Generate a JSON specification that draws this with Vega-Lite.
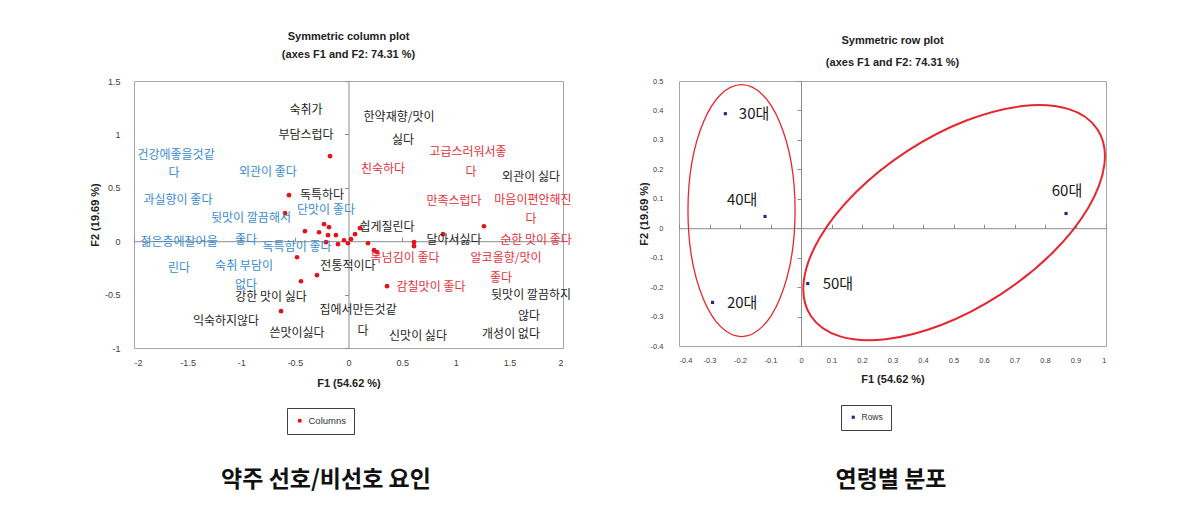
{
  "$schema": "https://vega.github.io/schema/vega-lite/v6.json",
  "padding": {"left": 88, "top": 30, "right": 0, "bottom": 0},
  "background": "white",
  "config": {
    "locale": {"number": {"decimal": ".", "thousands": ",", "grouping": [3], "currency": ["$", ""], "minus": "-"}},
    "view": {"stroke": "#a6a6a6"},
    "axis": {"labelFont": "Liberation Sans", "labelFontSize": 9, "labelColor": "#404040", "titleFont": "Liberation Sans", "titleFontSize": 11, "titleFontWeight": "bold", "titleColor": "#222222", "grid": false, "ticks": false, "domain": false, "format": "~g"},
    "title": {"font": "Liberation Sans", "fontSize": 11, "fontWeight": "bold", "color": "#222222", "anchor": "middle"},
    "legend": {"labelFont": "Liberation Sans", "labelFontSize": 9.5, "labelColor": "#333333", "strokeColor": "#404040", "fillColor": "white", "padding": 8}
  },
  "datasets": {
    "colPoints": [
      {"f1": -0.172, "f2": 0.796, "series": "Columns"},
      {"f1": -0.555, "f2": 0.431, "series": "Columns"},
      {"f1": -0.592, "f2": 0.262, "series": "Columns"},
      {"f1": -0.228, "f2": 0.159, "series": "Columns"},
      {"f1": -0.182, "f2": 0.131, "series": "Columns"},
      {"f1": -0.406, "f2": 0.094, "series": "Columns"},
      {"f1": -0.275, "f2": 0.084, "series": "Columns"},
      {"f1": -0.191, "f2": 0.056, "series": "Columns"},
      {"f1": -0.117, "f2": 0.056, "series": "Columns"},
      {"f1": -0.210, "f2": -0.009, "series": "Columns"},
      {"f1": -0.098, "f2": -0.028, "series": "Columns"},
      {"f1": -0.042, "f2": 0.009, "series": "Columns"},
      {"f1": 0.023, "f2": 0.019, "series": "Columns"},
      {"f1": 0.061, "f2": 0.066, "series": "Columns"},
      {"f1": 0.107, "f2": 0.122, "series": "Columns"},
      {"f1": 0.182, "f2": -0.019, "series": "Columns"},
      {"f1": 0.238, "f2": -0.084, "series": "Columns"},
      {"f1": 0.266, "f2": -0.103, "series": "Columns"},
      {"f1": -0.480, "f2": -0.150, "series": "Columns"},
      {"f1": -0.294, "f2": -0.318, "series": "Columns"},
      {"f1": -0.443, "f2": -0.375, "series": "Columns"},
      {"f1": -0.629, "f2": -0.655, "series": "Columns"},
      {"f1": 0.359, "f2": -0.421, "series": "Columns"},
      {"f1": 0.611, "f2": -0.009, "series": "Columns"},
      {"f1": 0.611, "f2": -0.047, "series": "Columns"},
      {"f1": 0.881, "f2": 0.066, "series": "Columns"},
      {"f1": 1.263, "f2": 0.140, "series": "Columns"},
      {"f1": -0.005, "f2": -0.019, "series": "Columns"}
    ],
    "colLabels": [
      {"f1": -0.396, "f2": 1.227, "label": "숙취가", "group": "비선호"},
      {"f1": -0.396, "f2": 0.993, "label": "부담스럽다", "group": "비선호"},
      {"f1": 0.471, "f2": 1.161, "label": "한약재향/맛이", "group": "비선호"},
      {"f1": 0.508, "f2": 0.946, "label": "싫다", "group": "비선호"},
      {"f1": 1.702, "f2": 0.599, "label": "외관이 싫다", "group": "비선호"},
      {"f1": -0.247, "f2": 0.431, "label": "독특하다", "group": "비선호"},
      {"f1": 0.359, "f2": 0.131, "label": "쉽게질린다", "group": "비선호"},
      {"f1": 0.984, "f2": 0.009, "label": "달아서싫다", "group": "비선호"},
      {"f1": -0.005, "f2": -0.234, "label": "전통적이다", "group": "비선호"},
      {"f1": -0.723, "f2": -0.524, "label": "강한 맛이 싫다", "group": "비선호"},
      {"f1": 0.089, "f2": -0.646, "label": "집에서만든것같", "group": "비선호"},
      {"f1": 0.135, "f2": -0.843, "label": "다", "group": "비선호"},
      {"f1": -1.142, "f2": -0.749, "label": "익숙하지않다", "group": "비선호"},
      {"f1": -0.480, "f2": -0.861, "label": "쓴맛이싫다", "group": "비선호"},
      {"f1": 0.648, "f2": -0.890, "label": "신맛이 싫다", "group": "비선호"},
      {"f1": 1.702, "f2": -0.506, "label": "뒷맛이 깔끔하지", "group": "비선호"},
      {"f1": 1.683, "f2": -0.702, "label": "않다", "group": "비선호"},
      {"f1": 1.515, "f2": -0.871, "label": "개성이 없다", "group": "비선호"},
      {"f1": 1.114, "f2": 0.833, "label": "고급스러워서좋", "group": "선호A"},
      {"f1": 1.142, "f2": 0.646, "label": "다", "group": "선호A"},
      {"f1": 0.322, "f2": 0.674, "label": "친숙하다", "group": "선호A"},
      {"f1": 0.984, "f2": 0.375, "label": "만족스럽다", "group": "선호A"},
      {"f1": 1.720, "f2": 0.384, "label": "마음이편안해진", "group": "선호A"},
      {"f1": 1.702, "f2": 0.206, "label": "다", "group": "선호A"},
      {"f1": 1.748, "f2": 0.009, "label": "순한 맛이 좋다", "group": "선호A"},
      {"f1": 0.527, "f2": -0.159, "label": "목넘김이 좋다", "group": "선호A"},
      {"f1": 1.469, "f2": -0.159, "label": "알코올향/맛이", "group": "선호A"},
      {"f1": 1.422, "f2": -0.346, "label": "좋다", "group": "선호A"},
      {"f1": 0.769, "f2": -0.431, "label": "감칠맛이 좋다", "group": "선호A"},
      {"f1": -1.608, "f2": 0.805, "label": "건강에좋을것같", "group": "선호B"},
      {"f1": -1.627, "f2": 0.637, "label": "다", "group": "선호B"},
      {"f1": -0.751, "f2": 0.646, "label": "외관이 좋다", "group": "선호B"},
      {"f1": -1.590, "f2": 0.384, "label": "과실향이 좋다", "group": "선호B"},
      {"f1": -0.909, "f2": 0.215, "label": "뒷맛이 깔끔해서", "group": "선호B"},
      {"f1": -0.956, "f2": 0.009, "label": "좋다", "group": "선호B"},
      {"f1": -0.210, "f2": 0.290, "label": "단맛이 좋다", "group": "선호B"},
      {"f1": -0.480, "f2": -0.056, "label": "독특함이 좋다", "group": "선호B"},
      {"f1": -1.580, "f2": -0.009, "label": "젊은층에잘어울", "group": "선호B"},
      {"f1": -1.580, "f2": -0.253, "label": "린다", "group": "선호B"},
      {"f1": -0.974, "f2": -0.234, "label": "숙취 부담이", "group": "선호B"},
      {"f1": -0.956, "f2": -0.412, "label": "없다", "group": "선호B"}
    ],
    "rowPoints": [
      {"f1": -0.248, "f2": 0.389, "age": "30대", "series": "Rows"},
      {"f1": -0.118, "f2": 0.040, "age": "40대", "series": "Rows"},
      {"f1": 0.022, "f2": -0.188, "age": "50대", "series": "Rows"},
      {"f1": -0.290, "f2": -0.252, "age": "20대", "series": "Rows"},
      {"f1": 0.869, "f2": 0.050, "age": "60대", "series": "Rows"}
    ],
    "rowLabels": [
      {"f1": -0.154, "f2": 0.388, "age": "30대"},
      {"f1": -0.193, "f2": 0.095, "age": "40대"},
      {"f1": 0.121, "f2": -0.191, "age": "50대"},
      {"f1": -0.193, "f2": -0.253, "age": "20대"},
      {"f1": 0.872, "f2": 0.126, "age": "60대"}
    ],
    "ellipseYoung": [{"f1": -0.195, "f2": 0.060, "cluster": "20-40대"}],
    "ellipseOld": [{"f1": 0.502, "f2": 0.019, "cluster": "50-60대"}]
  },
  "vconcat": [
    {
      "hconcat": [
        {
          "width": 429,
          "height": 267,
          "title": {"text": ["Symmetric column plot", "(axes F1 and F2: 74.31 %)"], "lineHeight": 18, "offset": 17},
          "resolve": {"axis": {"x": "independent", "y": "independent"}},
          "layer": [
            {
              "mark": {"type": "rule", "color": "#8c8c8c", "strokeWidth": 1},
              "encoding": {
                "x": {"datum": 0, "type": "quantitative", "scale": {"domain": [-2, 2], "nice": false, "zero": false},
                  "axis": {"orient": "top", "offset": -160.2, "domain": true, "domainColor": "#8c8c8c", "ticks": true, "tickColor": "#8c8c8c", "tickSize": 4, "labels": false, "title": null, "values": [-2, -1.5, -1, -0.5, 0, 0.5, 1, 1.5, 2]}}
              }
            },
            {
              "mark": {"type": "rule", "color": "#8c8c8c", "strokeWidth": 1},
              "encoding": {
                "y": {"datum": 0, "type": "quantitative", "scale": {"domain": [-1, 1.5], "nice": false, "zero": false},
                  "axis": {"orient": "left", "offset": -214.5, "domain": true, "domainColor": "#8c8c8c", "ticks": true, "tickColor": "#8c8c8c", "tickSize": 4, "labels": false, "title": null, "values": [-1, -0.5, 0, 0.5, 1, 1.5]}}
              }
            },
            {
              "data": {"name": "colPoints"},
              "mark": {"type": "point", "filled": true, "shape": "circle", "size": 22, "opacity": 1},
              "encoding": {
                "x": {"field": "f1", "type": "quantitative", "scale": {"domain": [-2, 2], "nice": false, "zero": false},
                  "axis": {"orient": "bottom", "values": [-2, -1.5, -1, -0.5, 0, 0.5, 1, 1.5, 2], "labelPadding": 10, "title": "F1 (54.62 %)", "titlePadding": 10}},
                "y": {"field": "f2", "type": "quantitative", "scale": {"domain": [-1, 1.5], "nice": false, "zero": false},
                  "axis": {"orient": "left", "values": [-1, -0.5, 0, 0.5, 1, 1.5], "labelPadding": 14, "title": "F2 (19.69 %)", "titlePadding": 4}},
                "color": {"field": "series", "type": "nominal", "scale": {"range": ["#e3121b"]},
                  "legend": {"orient": "none", "legendX": 153, "legendY": 327, "title": null, "symbolType": "circle", "symbolSize": 18}}
              }
            },
            {
              "data": {"name": "colLabels"},
              "mark": {"type": "text", "font": "Noto Sans CJK KR", "fontSize": 12, "align": "center", "baseline": "middle"},
              "encoding": {
                "x": {"field": "f1", "type": "quantitative", "scale": {"domain": [-2, 2], "nice": false, "zero": false}, "axis": null},
                "y": {"field": "f2", "type": "quantitative", "scale": {"domain": [-1, 1.5], "nice": false, "zero": false}, "axis": null},
                "text": {"field": "label"},
                "fill": {"field": "group", "type": "nominal", "scale": {"domain": ["비선호", "선호A", "선호B"], "range": ["#262626", "#e5323a", "#3a8bd0"]}, "legend": null}
              }
            }
          ]
        },
        {
          "width": 427,
          "height": 265,
          "title": {"text": ["Symmetric row plot", "(axes F1 and F2: 74.31 %)"], "lineHeight": 22, "offset": 9},
          "resolve": {"axis": {"x": "independent", "y": "independent"}},
          "layer": [
            {
              "mark": {"type": "rule", "color": "#8c8c8c", "strokeWidth": 1},
              "encoding": {
                "x": {"datum": 0, "type": "quantitative", "scale": {"domain": [-0.4, 1], "nice": false, "zero": false},
                  "axis": {"orient": "top", "offset": -147.2, "domain": true, "domainColor": "#8c8c8c", "ticks": true, "tickColor": "#8c8c8c", "tickSize": 4, "labels": false, "title": null, "values": [-0.4, -0.3, -0.2, -0.1, 0, 0.1, 0.2, 0.3, 0.4, 0.5, 0.6, 0.7, 0.8, 0.9, 1]}}
              }
            },
            {
              "mark": {"type": "rule", "color": "#8c8c8c", "strokeWidth": 1},
              "encoding": {
                "y": {"datum": 0, "type": "quantitative", "scale": {"domain": [-0.4, 0.5], "nice": false, "zero": false},
                  "axis": {"orient": "left", "offset": -122, "domain": true, "domainColor": "#8c8c8c", "ticks": true, "tickColor": "#8c8c8c", "tickSize": 4, "labels": false, "title": null, "values": [-0.4, -0.3, -0.2, -0.1, 0, 0.1, 0.2, 0.3, 0.4, 0.5]}}
              }
            },
            {
              "data": {"name": "ellipseYoung"},
              "mark": {"type": "point", "shape": "M 0 -1 A 0.425 1 0 1 1 0 1 A 0.425 1 0 1 1 0 -1 Z", "size": 63504, "filled": false, "stroke": "#e8262f", "strokeWidth": 1.3, "opacity": 1},
              "encoding": {
                "x": {"field": "f1", "type": "quantitative", "scale": {"domain": [-0.4, 1], "nice": false, "zero": false}, "axis": null},
                "y": {"field": "f2", "type": "quantitative", "scale": {"domain": [-0.4, 0.5], "nice": false, "zero": false}, "axis": null}
              }
            },
            {
              "data": {"name": "ellipseOld"},
              "mark": {"type": "point", "shape": "M -1 0 A 1 0.5 0 1 1 1 0 A 1 0.5 0 1 1 -1 0 Z", "size": 116964, "angle": 327, "filled": false, "stroke": "#e8262f", "strokeWidth": 2, "opacity": 1},
              "encoding": {
                "x": {"field": "f1", "type": "quantitative", "scale": {"domain": [-0.4, 1], "nice": false, "zero": false}, "axis": null},
                "y": {"field": "f2", "type": "quantitative", "scale": {"domain": [-0.4, 0.5], "nice": false, "zero": false}, "axis": null}
              }
            },
            {
              "data": {"name": "rowPoints"},
              "mark": {"type": "point", "filled": true, "shape": "square", "size": 10, "opacity": 1},
              "encoding": {
                "x": {"field": "f1", "type": "quantitative", "scale": {"domain": [-0.4, 1], "nice": false, "zero": false},
                  "axis": {"orient": "bottom", "values": [-0.4, -0.3, -0.2, -0.1, 0, 0.1, 0.2, 0.3, 0.4, 0.5, 0.6, 0.7, 0.8, 0.9, 1], "labelFontSize": 7.5, "labelPadding": 10, "title": "F1 (54.62 %)", "titlePadding": 10}},
                "y": {"field": "f2", "type": "quantitative", "scale": {"domain": [-0.4, 0.5], "nice": false, "zero": false},
                  "axis": {"orient": "left", "values": [-0.4, -0.3, -0.2, -0.1, 0, 0.1, 0.2, 0.3, 0.4, 0.5], "labelFontSize": 7.5, "labelPadding": 16, "title": "F2 (19.69 %)", "titlePadding": 1}},
                "color": {"field": "series", "type": "nominal", "scale": {"range": ["#1f2a80"]},
                  "legend": {"orient": "none", "legendX": 162, "legendY": 324, "title": null, "symbolType": "square", "symbolSize": 10, "labelFontSize": 8.5}}
              }
            },
            {
              "data": {"name": "rowLabels"},
              "mark": {"type": "text", "font": "Noto Sans CJK KR", "fontSize": 15, "align": "center", "baseline": "middle", "color": "#1a1a1a"},
              "encoding": {
                "x": {"field": "f1", "type": "quantitative", "scale": {"domain": [-0.4, 1], "nice": false, "zero": false}, "axis": null},
                "y": {"field": "f2", "type": "quantitative", "scale": {"domain": [-0.4, 0.5], "nice": false, "zero": false}, "axis": null},
                "text": {"field": "age"}
              }
            }
          ]
        }
      ],
      "spacing": 116,
      "bounds": "flush",
      "resolve": {"scale": {"color": "independent", "fill": "independent"}, "legend": {"color": "independent", "fill": "independent"}}
    },
    {
      "hconcat": [
        {
          "width": 384,
          "height": 30,
          "view": {"stroke": null},
          "data": {"values": [{"caption": "약주 선호/비선호 요인"}]},
          "mark": {"type": "text", "font": "Noto Sans CJK KR", "fontSize": 23, "fontWeight": "bold", "color": "#111111"},
          "encoding": {"text": {"field": "caption"}}
        },
        {
          "width": 300,
          "height": 30,
          "view": {"stroke": null},
          "data": {"values": [{"caption": "연령별 분포"}]},
          "mark": {"type": "text", "font": "Noto Sans CJK KR", "fontSize": 23, "fontWeight": "bold", "color": "#111111"},
          "encoding": {"text": {"field": "caption"}}
        }
      ],
      "spacing": 223
    }
  ],
  "spacing": 30
}
